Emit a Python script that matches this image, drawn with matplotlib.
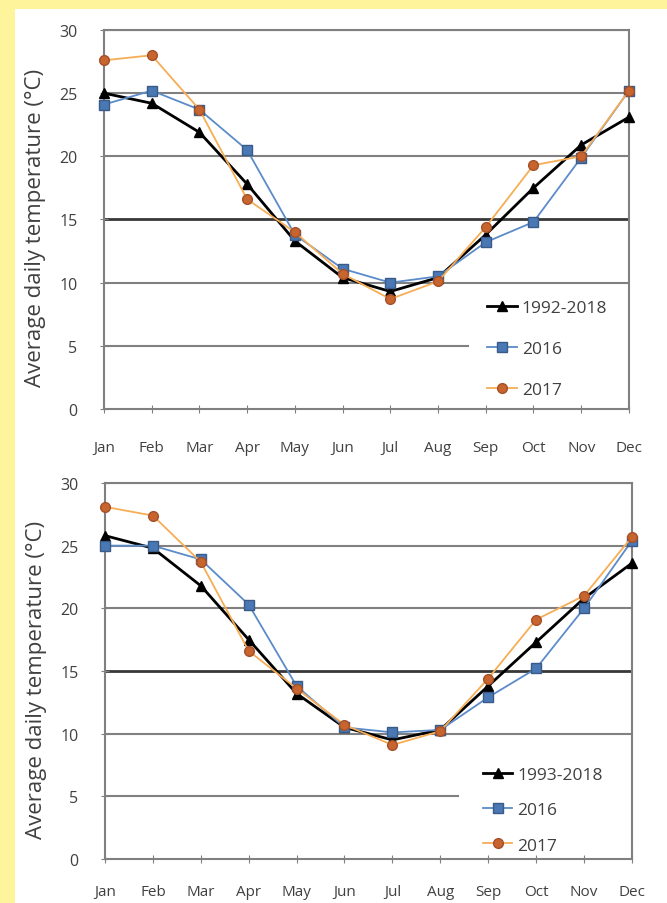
import matplotlib.pyplot as plt

# month labels shared by both panels
months = ['Jan', 'Feb', 'Mar', 'Apr', 'May', 'Jun', 'Jul', 'Aug', 'Sep', 'Oct', 'Nov', 'Dec']
yticks = [0, 5, 10, 15, 20, 25, 30]

# top panel
top_label_avg = '1992-2018'
top_avg = [25.0, 24.2, 21.9, 17.8, 13.3, 10.4, 9.3, 10.4, 13.8, 17.5, 20.9, 23.1]
top_2016 = [24.1, 25.2, 23.7, 20.5, 13.8, 11.1, 10.0, 10.5, 13.2, 14.8, 19.9, 25.2]
top_2017 = [27.6, 28.0, 23.7, 16.6, 14.0, 10.7, 8.7, 10.1, 14.4, 19.3, 20.0, 25.2]

# bottom panel
bot_label_avg = '1993-2018'
bot_avg = [25.8, 24.8, 21.8, 17.5, 13.2, 10.5, 9.5, 10.3, 13.8, 17.3, 20.8, 23.6]
bot_2016 = [25.0, 25.0, 23.9, 20.3, 13.8, 10.5, 10.1, 10.3, 12.9, 15.2, 20.0, 25.4]
bot_2017 = [28.1, 27.4, 23.7, 16.6, 13.6, 10.7, 9.1, 10.2, 14.4, 19.1, 21.0, 25.7]

plt.rcParams['font.family'] = ['Open Sans', 'DejaVu Sans']

fig = plt.figure(figsize=(6.67, 9.04), dpi=100)
fig.patch.set_facecolor('#fef49c')
# white card behind the charts
fig.patches.append(plt.Rectangle((15 / 667, 0), 1, 1 - 10 / 904, transform=fig.transFigure,
                                 facecolor='white', edgecolor='none', zorder=-10))

ax1 = fig.add_axes([0.1559, 0.5465, 0.787, 0.4192])
ax2 = fig.add_axes([0.1574, 0.0487, 0.790, 0.4159])


def draw_panel(ax, avg, y16, y17, avg_label, leg_xy, spacing, cut5, xpad):
    x = range(len(months))
    ax.set_facecolor('white')
    for yv in yticks[1:]:
        lw = 2.0 if yv == 15 else 1.5
        col = '#383838' if yv == 15 else '#808080'
        # the legend box hides the right part of the 5 line
        ax.axhline(yv, xmax=cut5 if yv == 5 else 1, color=col, lw=lw, zorder=0.5)

    ax.plot(x, avg, color='black', lw=2, marker='^', ms=7, mfc='black', mec='black',
            label=avg_label, clip_on=False, zorder=3)
    ax.plot(x, y16, color='#5b8bc9', lw=1.3, marker='s', ms=7, mfc='#4a78b4', mec='#3a5a88',
            label='2016', clip_on=False, zorder=3)
    ax.plot(x, y17, color='#f6ad55', lw=1.3, marker='o', ms=7, mfc='#c8642d', mec='#a4502a',
            label='2017', clip_on=False, zorder=3)

    ax.set_xlim(0, len(months) - 1)
    ax.set_ylim(0, 30)
    ax.set_xticks(list(x))
    ax.set_xticklabels(months)
    ax.set_yticks(yticks)
    ax.tick_params(axis='both', direction='inout', length=6, color='#808080',
                   labelcolor='#404040')
    ax.tick_params(axis='x', pad=xpad, labelsize=11)
    ax.tick_params(axis='y', pad=16, labelsize=11.5)
    for s in ax.spines.values():
        s.set_color('#808080')
        s.set_linewidth(1.5)
    ax.set_ylabel('Average daily temperature (°C)', fontsize=16, color='#404040')
    ax.yaxis.set_label_coords(-0.110, 0.48)

    leg = ax.legend(loc='upper left', bbox_to_anchor=leg_xy, frameon=False, fontsize=12.5,
                    handlelength=1.7, handletextpad=0.3, labelspacing=spacing,
                    borderpad=0, borderaxespad=0)
    for t in leg.get_texts():
        t.set_color('#404040')


draw_panel(ax1, top_avg, top_2016, top_2017, top_label_avg, (0.730, 0.289), 1.45, 0.693, 19)
draw_panel(ax2, bot_avg, bot_2016, bot_2017, bot_label_avg, (0.717, 0.245), 1.1, 0.670, 15)

fig.savefig('out.png', dpi=100, facecolor=fig.get_facecolor())
